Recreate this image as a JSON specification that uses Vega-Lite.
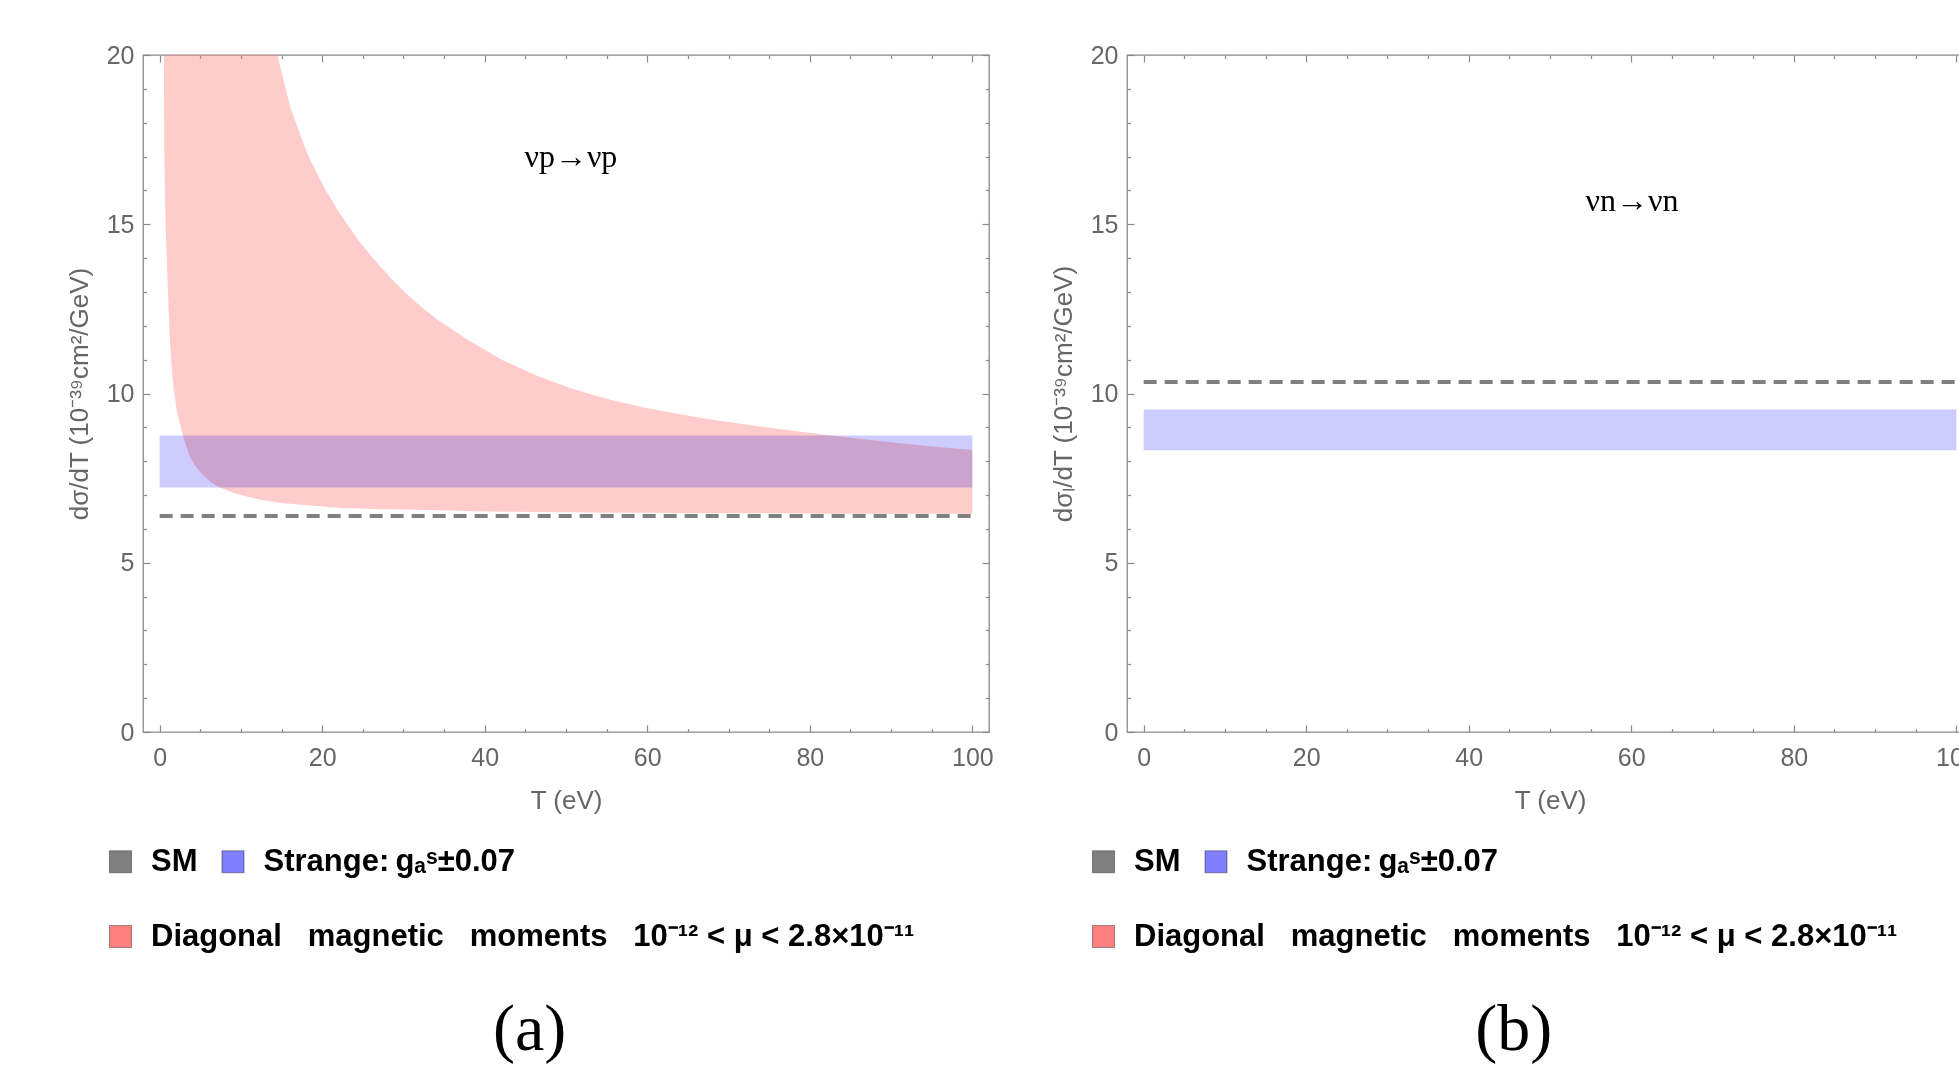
{
  "$schema": "https://vega.github.io/schema/vega-lite/v6.json",
  "background": "white",
  "padding": {"left": 65, "top": 42, "right": 0, "bottom": 0},
  "datasets": {
    "bandP": [
      {"T": 0.53, "lo": 20, "hi": 20},
      {"T": 0.56, "lo": 17.3, "hi": 20},
      {"T": 0.65, "lo": 16.0, "hi": 20},
      {"T": 0.74, "lo": 14.9, "hi": 20},
      {"T": 0.94, "lo": 13.5, "hi": 20},
      {"T": 1.1, "lo": 12.5, "hi": 20},
      {"T": 1.27, "lo": 11.55, "hi": 20},
      {"T": 1.5, "lo": 10.7, "hi": 20},
      {"T": 1.76, "lo": 10.07, "hi": 20},
      {"T": 2.1, "lo": 9.5, "hi": 20},
      {"T": 2.5, "lo": 9.1, "hi": 20},
      {"T": 3.1, "lo": 8.55, "hi": 20},
      {"T": 3.8, "lo": 8.09, "hi": 20},
      {"T": 4.5, "lo": 7.82, "hi": 20},
      {"T": 5.2, "lo": 7.62, "hi": 20},
      {"T": 6.3, "lo": 7.38, "hi": 20},
      {"T": 7.5, "lo": 7.21, "hi": 20},
      {"T": 9.5, "lo": 7.03, "hi": 20},
      {"T": 12.0, "lo": 6.88, "hi": 20},
      {"T": 14.5, "lo": 6.78, "hi": 20},
      {"T": 15.3, "lo": 6.76, "hi": 19.2},
      {"T": 16.1, "lo": 6.74, "hi": 18.44},
      {"T": 18.1, "lo": 6.7, "hi": 17.12},
      {"T": 20.2, "lo": 6.66, "hi": 16.1},
      {"T": 22.2, "lo": 6.62, "hi": 15.3},
      {"T": 24.3, "lo": 6.6, "hi": 14.58},
      {"T": 26.3, "lo": 6.59, "hi": 13.98},
      {"T": 28.4, "lo": 6.58, "hi": 13.42},
      {"T": 30.4, "lo": 6.57, "hi": 12.94},
      {"T": 32.5, "lo": 6.56, "hi": 12.5},
      {"T": 34.5, "lo": 6.55, "hi": 12.13},
      {"T": 37.7, "lo": 6.53, "hi": 11.62},
      {"T": 42.1, "lo": 6.51, "hi": 11.0},
      {"T": 46.5, "lo": 6.5, "hi": 10.52},
      {"T": 50.8, "lo": 6.49, "hi": 10.14},
      {"T": 55.2, "lo": 6.48, "hi": 9.83},
      {"T": 59.6, "lo": 6.48, "hi": 9.59},
      {"T": 64.0, "lo": 6.47, "hi": 9.39},
      {"T": 68.4, "lo": 6.47, "hi": 9.21},
      {"T": 72.8, "lo": 6.46, "hi": 9.06},
      {"T": 77.2, "lo": 6.46, "hi": 8.92},
      {"T": 81.6, "lo": 6.45, "hi": 8.79},
      {"T": 85.9, "lo": 6.45, "hi": 8.67},
      {"T": 90.3, "lo": 6.45, "hi": 8.55},
      {"T": 94.7, "lo": 6.45, "hi": 8.44},
      {"T": 100, "lo": 6.45, "hi": 8.33}
    ],
    "bandN": [],
    "strangeP": [{"T0": 0, "T1": 100, "lo": 7.22, "hi": 8.76}],
    "smP": [{"T0": 0, "T1": 100, "v": 6.38}],
    "strangeN": [{"T0": 0, "T1": 100, "lo": 8.32, "hi": 9.53}],
    "smN": [{"T0": 0, "T1": 100, "v": 10.34}]
  },
  "hconcat": [
    {
      "width": 846,
      "height": 677,
      "title": {"text": "(a)", "orient": "bottom", "frame": "bounds", "anchor": "middle", "font": "Liberation Serif", "fontSize": 66, "fontWeight": "normal", "color": "black", "offset": 46},
      "layer": [
        {
          "data": {"name": "bandP"},
          "mark": {"type": "area", "opacity": 0.4},
          "encoding": {
            "x": {"field": "T", "type": "quantitative", "scale": {"domain": [-2.05, 102.05], "nice": false, "zero": false},
              "axis": {"orient": "bottom", "values": [0,5,10,15,20,25,30,35,40,45,50,55,60,65,70,75,80,85,90,95,100],
                "tickSize": {"condition": {"test": "datum.value % 20 === 0", "value": -7}, "value": -3.5},
                "labelExpr": "datum.value % 20 === 0 ? datum.label : ''", "labelPadding": 20.7, "title": "T (eV)", "titlePadding": 13}},
            "y": {"field": "lo", "type": "quantitative", "scale": {"domain": [0, 20], "nice": false, "zero": false},
              "axis": {"orient": "left", "values": [0,1,2,3,4,5,6,7,8,9,10,11,12,13,14,15,16,17,18,19,20],
                "tickSize": {"condition": {"test": "datum.value % 5 === 0", "value": -7}, "value": -3.5},
                "labelExpr": "datum.value % 5 === 0 ? datum.label : ''", "labelPadding": 16, "title": "dσ/dT (10⁻³⁹cm²/GeV)", "titlePadding": 14}},
            "y2": {"field": "hi"},
            "fill": {"datum": "Diagonal\u00a0\u00a0 magnetic\u00a0\u00a0 moments\u00a0\u00a0 10⁻¹² < μ < 2.8×10⁻¹¹", "type": "nominal",
              "scale": {"domain": ["Diagonal\u00a0\u00a0 magnetic\u00a0\u00a0 moments\u00a0\u00a0 10⁻¹² < μ < 2.8×10⁻¹¹"], "range": ["#ff8080"]},
              "legend": {"title": null, "legendX": -38, "legendY": 866}}
          }
        },
        {
          "data": {"name": "strangeP"},
          "mark": {"type": "rect", "opacity": 0.4, "blend": "multiply"},
          "encoding": {
            "x": {"field": "T0", "type": "quantitative", "scale": {"domain": [-2.05, 102.05], "nice": false, "zero": false},
              "axis": {"orient": "top", "values": [0,5,10,15,20,25,30,35,40,45,50,55,60,65,70,75,80,85,90,95,100],
                "tickSize": {"condition": {"test": "datum.value % 20 === 0", "value": -7}, "value": -3.5},
                "labels": false, "title": null}},
            "x2": {"field": "T1"},
            "y": {"field": "lo", "type": "quantitative", "scale": {"domain": [0, 20], "nice": false, "zero": false},
              "axis": {"orient": "right", "values": [0,1,2,3,4,5,6,7,8,9,10,11,12,13,14,15,16,17,18,19,20],
                "tickSize": {"condition": {"test": "datum.value % 5 === 0", "value": -7}, "value": -3.5},
                "labels": false, "title": null}},
            "y2": {"field": "hi"},
            "color": {"datum": "Strange:\u2009gₐˢ±0.07", "type": "nominal",
              "scale": {"domain": ["SM", "Strange:\u2009gₐˢ±0.07"], "range": ["#808080", "#8080ff"]},
              "legend": {"title": null, "legendX": -38, "legendY": 791}}
          }
        },
        {
          "data": {"name": "smP"},
          "mark": {"type": "rule", "color": "#808080", "strokeWidth": 4, "strokeDash": [13, 8]},
          "encoding": {
            "x": {"field": "T0", "type": "quantitative", "scale": {"domain": [-2.05, 102.05], "nice": false, "zero": false}, "axis": null},
            "x2": {"field": "T1"},
            "y": {"field": "v", "type": "quantitative", "scale": {"domain": [0, 20], "nice": false, "zero": false}, "axis": null}
          }
        },
        {
          "data": {"values": [{}]},
          "mark": {"type": "text", "text": "νp→νp", "font": "Liberation Serif", "fontSize": 32, "color": "black"},
          "encoding": {
            "x": {"datum": 50.6, "type": "quantitative", "scale": {"domain": [-2.05, 102.05], "nice": false, "zero": false}, "axis": null},
            "y": {"datum": 17.0, "type": "quantitative", "scale": {"domain": [0, 20], "nice": false, "zero": false}, "axis": null}
          }
        }
      ],
      "resolve": {"axis": {"x": "independent", "y": "independent"}}
    },
    {
      "width": 846,
      "height": 677,
      "title": {"text": "(b)", "orient": "bottom", "frame": "bounds", "anchor": "middle", "font": "Liberation Serif", "fontSize": 66, "fontWeight": "normal", "color": "black", "offset": 46},
      "layer": [
        {
          "data": {"name": "bandN"},
          "mark": {"type": "area", "opacity": 0.4},
          "encoding": {
            "x": {"field": "T", "type": "quantitative", "scale": {"domain": [-2.05, 102.05], "nice": false, "zero": false},
              "axis": {"orient": "bottom", "values": [0,5,10,15,20,25,30,35,40,45,50,55,60,65,70,75,80,85,90,95,100],
                "tickSize": {"condition": {"test": "datum.value % 20 === 0", "value": -7}, "value": -3.5},
                "labelExpr": "datum.value % 20 === 0 ? datum.label : ''", "labelPadding": 20.7, "title": "T (eV)", "titlePadding": 13}},
            "y": {"field": "lo", "type": "quantitative", "scale": {"domain": [0, 20], "nice": false, "zero": false},
              "axis": {"orient": "left", "values": [0,1,2,3,4,5,6,7,8,9,10,11,12,13,14,15,16,17,18,19,20],
                "tickSize": {"condition": {"test": "datum.value % 5 === 0", "value": -7}, "value": -3.5},
                "labelExpr": "datum.value % 5 === 0 ? datum.label : ''", "labelPadding": 16, "title": "dσₗ/dT (10⁻³⁹cm²/GeV)", "titlePadding": 14}},
            "y2": {"field": "hi"},
            "fill": {"datum": "Diagonal\u00a0\u00a0 magnetic\u00a0\u00a0 moments\u00a0\u00a0 10⁻¹² < μ < 2.8×10⁻¹¹", "type": "nominal",
              "scale": {"domain": ["Diagonal\u00a0\u00a0 magnetic\u00a0\u00a0 moments\u00a0\u00a0 10⁻¹² < μ < 2.8×10⁻¹¹"], "range": ["#ff8080"]},
              "legend": {"title": null, "legendX": -39, "legendY": 866}}
          }
        },
        {
          "data": {"name": "strangeN"},
          "mark": {"type": "rect", "opacity": 0.4, "blend": "multiply"},
          "encoding": {
            "x": {"field": "T0", "type": "quantitative", "scale": {"domain": [-2.05, 102.05], "nice": false, "zero": false},
              "axis": {"orient": "top", "values": [0,5,10,15,20,25,30,35,40,45,50,55,60,65,70,75,80,85,90,95,100],
                "tickSize": {"condition": {"test": "datum.value % 20 === 0", "value": -7}, "value": -3.5},
                "labels": false, "title": null}},
            "x2": {"field": "T1"},
            "y": {"field": "lo", "type": "quantitative", "scale": {"domain": [0, 20], "nice": false, "zero": false},
              "axis": {"orient": "right", "values": [0,1,2,3,4,5,6,7,8,9,10,11,12,13,14,15,16,17,18,19,20],
                "tickSize": {"condition": {"test": "datum.value % 5 === 0", "value": -7}, "value": -3.5},
                "labels": false, "title": null}},
            "y2": {"field": "hi"},
            "color": {"datum": "Strange:\u2009gₐˢ±0.07", "type": "nominal",
              "scale": {"domain": ["SM", "Strange:\u2009gₐˢ±0.07"], "range": ["#808080", "#8080ff"]},
              "legend": {"title": null, "legendX": -39, "legendY": 791}}
          }
        },
        {
          "data": {"name": "smN"},
          "mark": {"type": "rule", "color": "#808080", "strokeWidth": 4, "strokeDash": [13, 8]},
          "encoding": {
            "x": {"field": "T0", "type": "quantitative", "scale": {"domain": [-2.05, 102.05], "nice": false, "zero": false}, "axis": null},
            "x2": {"field": "T1"},
            "y": {"field": "v", "type": "quantitative", "scale": {"domain": [0, 20], "nice": false, "zero": false}, "axis": null}
          }
        },
        {
          "data": {"values": [{}]},
          "mark": {"type": "text", "text": "νn→νn", "font": "Liberation Serif", "fontSize": 32, "color": "black"},
          "encoding": {
            "x": {"datum": 60.1, "type": "quantitative", "scale": {"domain": [-2.05, 102.05], "nice": false, "zero": false}, "axis": null},
            "y": {"datum": 15.7, "type": "quantitative", "scale": {"domain": [0, 20], "nice": false, "zero": false}, "axis": null}
          }
        }
      ],
      "resolve": {"axis": {"x": "independent", "y": "independent"}}
    }
  ],
  "spacing": 138,
  "bounds": "flush",
  "resolve": {
    "scale": {"color": "independent", "fill": "independent"},
    "legend": {"color": "independent", "fill": "independent"}
  },
  "config": {
    "view": {"stroke": "#8a8a8a", "strokeWidth": 1.3},
    "axis": {
      "domain": false, "grid": false, "tickColor": "#8a8a8a", "tickWidth": 1.2,
      "labelFont": "Liberation Sans", "labelFontSize": 25, "labelColor": "#666666",
      "titleFont": "Liberation Sans", "titleFontSize": 26, "titleColor": "#666666", "titleFontWeight": "normal",
      "labelFlush": false, "labelOverlap": false
    },
    "legend": {
      "orient": "none", "direction": "horizontal", "symbolType": "square", "symbolSize": 484, "symbolOpacity": 1,
      "symbolStrokeWidth": 1.2, "symbolStrokeColor": "rgba(0,0,0,0.35)",
      "labelFont": "Liberation Sans", "labelFontSize": 31, "labelFontWeight": "bold", "labelColor": "black",
      "labelOffset": 15, "columnPadding": 19.5, "labelLimit": 2000, "padding": 0
    }
  }
}
